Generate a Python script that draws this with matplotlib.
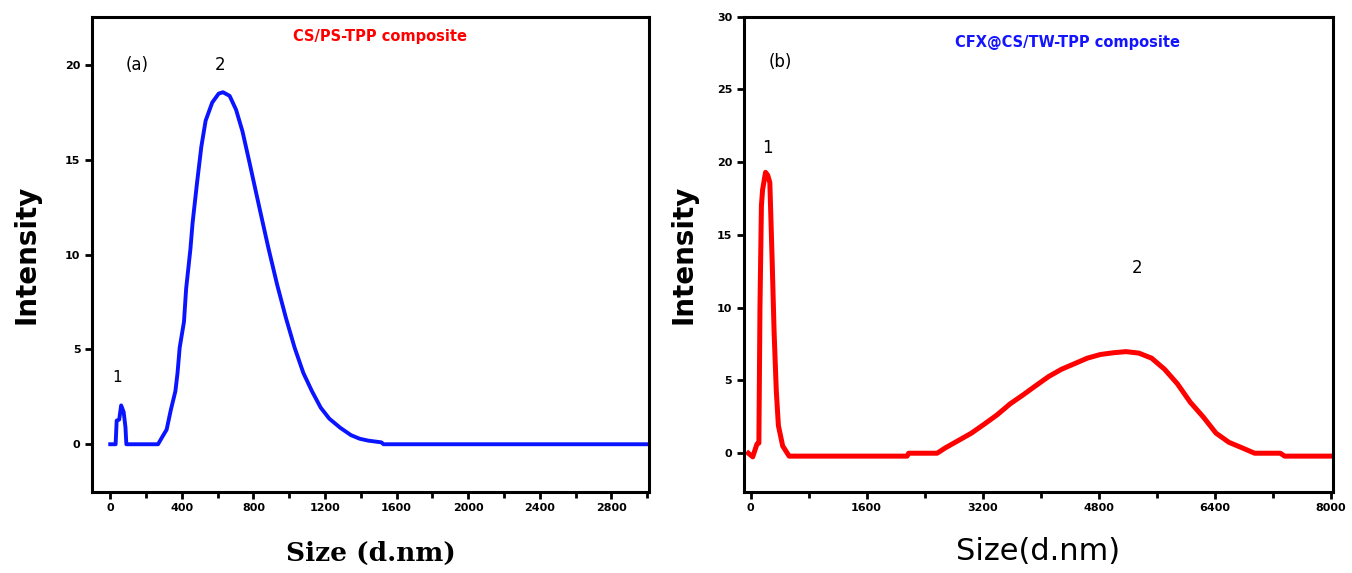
import numpy as np
import matplotlib
matplotlib.use('Agg')
import matplotlib.pyplot as plt
from matplotlib.ticker import MultipleLocator

# panel (a) CS/PS-TPP composite
size_a = [0, 30, 36, 50, 61, 75, 85, 90, 150, 267, 291, 315, 339, 364, 376, 388, 412, 424,
          448, 460, 485, 509, 533, 570, 606, 630, 667, 703, 739, 776, 812, 848, 885, 933,
          982, 1030, 1079, 1127, 1176, 1224, 1285, 1345, 1394, 1442, 1515, 1527, 2000, 3000]
int_a = [0, 0, 1.25, 1.3, 2.05, 1.7, 0.9, 0, 0, 0, 0.39, 0.77, 1.83, 2.8, 3.76, 5.1, 6.46, 8.2,
         10.3, 11.67, 13.8, 15.7, 17.07, 18.03, 18.5, 18.57, 18.38, 17.65, 16.5, 14.95, 13.4,
         11.86, 10.3, 8.4, 6.65, 5.1, 3.76, 2.8, 1.93, 1.35, 0.87, 0.48, 0.29, 0.19, 0.1, 0,
         0, 0]

# panel (b) CFX@CS/TW-TPP composite
size_b = [-30, 30, 89, 115, 130, 150, 166, 207, 237, 266, 296, 325, 355, 384, 443, 532, 2158,
          2180, 2572, 2690, 2868, 3045, 3223, 3400, 3578, 3755, 3932, 4110, 4287, 4465, 4642,
          4820, 4997, 5174, 5352, 5529, 5707, 5884, 6062, 6239, 6416, 6594, 6771, 6948, 7303,
          7362, 8013]
int_b = [0, -0.25, 0.63, 0.7, 10.0, 17.0, 18.1, 19.3, 19.1, 18.6, 13.6, 8.3, 4.3, 1.9, 0.5,
         -0.2, -0.2, 0, 0, 0.38, 0.88, 1.38, 2.0, 2.64, 3.39, 4.0, 4.64, 5.27, 5.77, 6.15, 6.53,
         6.78, 6.9, 6.98, 6.88, 6.53, 5.77, 4.77, 3.5, 2.5, 1.38, 0.75, 0.38, 0, 0, -0.2, -0.2]

fig = plt.figure(figsize=(13.52, 5.73), dpi=100)
ax1 = fig.add_axes([0.0683, 0.142, 0.4117, 0.829])
ax2 = fig.add_axes([0.5503, 0.142, 0.4357, 0.829])

for ax in (ax1, ax2):
    for s in ax.spines.values():
        s.set_linewidth(2.2)
    ax.tick_params(which='both', direction='out', width=2, length=5, labelsize=8)
    ax.tick_params(which='minor', length=4)

# (a)
ax1.plot(size_a, int_a, color='#0a14ff', lw=2.8)
ax1.set_xlim(-100, 3010)
ax1.set_ylim(-2.5, 22.56)
ax1.xaxis.set_major_locator(MultipleLocator(400))
ax1.xaxis.set_minor_locator(MultipleLocator(200))
ax1.yaxis.set_major_locator(MultipleLocator(5))
ax1.set_xlabel('Size (d.nm)', family='DejaVu Serif', fontweight='bold', fontsize=19, labelpad=20)
ax1.set_ylabel('Intensity', fontweight='bold', fontsize=20, labelpad=18)
ax1.text(1508, 21.5, 'CS/PS-TPP composite', color='red', fontsize=10.5, fontweight='bold',
         ha='center', va='center')
ax1.text(148, 20.0, '(a)', fontsize=12, ha='center', va='center')
ax1.text(612, 20.0, '2', fontsize=12, ha='center', va='center')
ax1.text(36, 3.5, '1', fontsize=11, ha='center', va='center')

# (b)
ax2.plot(size_b, int_b, color='#ff0000', lw=3.6)
ax2.set_xlim(-90, 8030)
ax2.set_ylim(-2.64, 30)
ax2.xaxis.set_major_locator(MultipleLocator(1600))
ax2.xaxis.set_minor_locator(MultipleLocator(800))
ax2.yaxis.set_major_locator(MultipleLocator(5))
ax2.set_xlabel('Size(d.nm)', fontsize=22, labelpad=17)
ax2.set_ylabel('Intensity', fontweight='bold', fontsize=20, labelpad=14)
ax2.text(4367, 28.2, 'CFX@CS/TW-TPP composite', color='#1414ff', fontsize=10.5,
         fontweight='bold', ha='center', va='center')
ax2.text(404, 26.9, '(b)', fontsize=12, ha='center', va='center')
ax2.text(239, 21.0, '1', fontsize=12, ha='center', va='center')
ax2.text(5330, 12.7, '2', fontsize=12, ha='center', va='center')

for ax in (ax1, ax2):
    for lab in ax.get_xticklabels() + ax.get_yticklabels():
        lab.set_fontweight('bold')

fig.savefig('out.png', dpi=100)
